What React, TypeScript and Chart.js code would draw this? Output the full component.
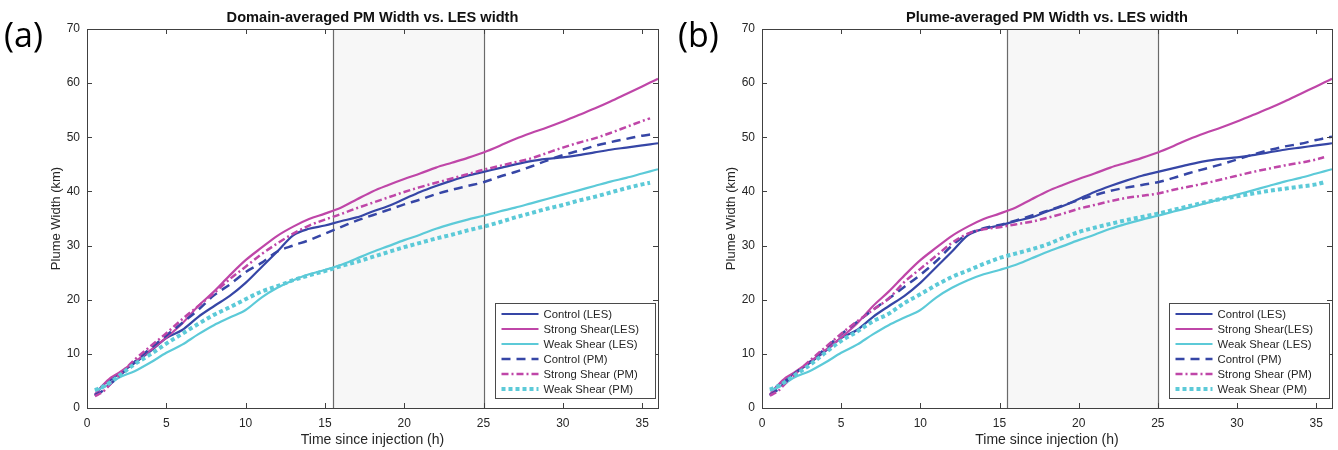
import React, { useEffect, useRef } from 'react';
import { Chart, registerables } from 'chart.js';

Chart.register(...registerables);

// ---------------- data ----------------
const TIME_H = [0.5, 1, 1.5, 2, 3, 4, 5, 6, 7, 8, 9, 10, 11, 12, 13, 14, 15, 16, 17, 18, 19, 20, 21, 22, 23, 24, 25, 26, 27, 28, 29, 30, 31, 32, 33, 34, 35, 35.5, 36];

const X_TICKS = [0, 5, 10, 15, 20, 25, 30, 35];
const Y_TICKS = [0, 10, 20, 30, 40, 50, 60, 70];
const SHADE_H = [15.5, 25];

// LES widths (same in both panels)
const CONTROL_LES = [2.3, 4.2, 5.2, 6.3, 8.3, 10.5, 12.9, 14.4, 16.8, 18.8, 20.7, 23.1, 26.0, 28.9, 31.9, 33.1, 33.7, 34.5, 35.2, 36.3, 37.3, 38.6, 39.9, 41.0, 42.0, 42.9, 43.6, 44.3, 45.0, 45.6, 46.0, 46.3, 46.7, 47.2, 47.7, 48.1, 48.5, 48.7, 48.9];
const STRONG_LES = [2.5, 4.2, 5.6, 6.5, 8.5, 10.7, 13.0, 15.6, 18.8, 21.5, 24.5, 27.3, 29.6, 31.8, 33.5, 34.9, 35.9, 37.0, 38.5, 40.0, 41.2, 42.3, 43.3, 44.4, 45.3, 46.2, 47.2, 48.4, 49.7, 50.8, 51.8, 52.9, 54.1, 55.3, 56.6, 58.0, 59.4, 60.1, 60.8];
const WEAK_LES = [3.2, 3.8, 4.6, 5.6, 6.8, 8.4, 10.2, 11.7, 13.6, 15.3, 16.7, 18.1, 20.4, 22.2, 23.6, 24.7, 25.5, 26.4, 27.6, 28.8, 29.9, 31.0, 32.0, 33.1, 34.0, 34.8, 35.5, 36.3, 37.0, 37.8, 38.6, 39.4, 40.2, 41.0, 41.8, 42.5, 43.3, 43.7, 44.1];

// (a) domain-averaged PM widths
const CONTROL_PM_DOMAIN = [2.4, 3.2, 4.5, 5.8, 8.5, 11.0, 13.4, 15.7, 18.1, 20.8, 22.8, 25.1, 26.8, 28.9, 30.0, 31.0, 32.2, 33.4, 34.6, 35.6, 36.6, 37.6, 38.5, 39.5, 40.3, 41.0, 41.7, 42.7, 43.6, 44.6, 45.7, 46.7, 47.5, 48.4, 49.1, 49.7, 50.3, 50.5, null];
const STRONG_PM_DOMAIN = [2.2, 3.0, 4.5, 6.0, 8.9, 11.4, 13.8, 16.4, 18.8, 21.2, 23.8, 26.1, 28.4, 30.4, 32.2, 33.7, 34.8, 35.8, 36.9, 37.9, 38.9, 39.9, 40.8, 41.6, 42.4, 43.2, 44.0, 44.7, 45.4, 46.1, 47.1, 48.1, 49.0, 49.8, 50.8, 51.9, 53.0, 53.5, null];
const WEAK_PM_DOMAIN = [3.3, 3.9, 4.8, 5.9, 8.1, 9.9, 11.9, 13.7, 15.5, 17.2, 18.6, 20.1, 21.5, 22.5, 23.6, 24.5, 25.3, 26.2, 27.0, 27.9, 28.8, 29.7, 30.5, 31.3, 32.0, 32.8, 33.5, 34.3, 35.2, 36.0, 36.8, 37.5, 38.3, 39.0, 39.8, 40.6, 41.3, 41.6, null];

// (b) plume-averaged PM widths
const CONTROL_PM_PLUME = [2.4, 3.4, 4.8, 6.2, 8.4, 11.0, 13.6, 15.9, 18.1, 20.2, 22.4, 24.6, 27.1, 30.0, 32.1, 33.2, 33.8, 34.6, 35.5, 36.4, 37.4, 38.4, 39.3, 40.1, 40.7, 41.2, 41.7, 42.5, 43.4, 44.2, 45.0, 45.9, 46.8, 47.6, 48.3, 48.8, 49.5, 49.8, 50.1];
const STRONG_PM_PLUME = [2.3, 3.1, 4.6, 6.0, 8.7, 11.2, 13.7, 16.0, 18.1, 20.2, 23.3, 25.7, 28.1, 30.5, 32.2, 33.0, 33.4, 33.9, 34.4, 35.1, 35.9, 36.8, 37.5, 38.2, 38.8, 39.2, 39.6, 40.3, 40.9, 41.5, 42.2, 42.9, 43.6, 44.2, 44.8, 45.3, 45.9, 46.3, null];
const WEAK_PM_PLUME = [3.4, 4.0, 4.9, 5.9, 7.9, 10.2, 12.4, 14.1, 16.0, 17.4, 19.4, 21.0, 22.7, 24.2, 25.4, 26.6, 27.7, 28.5, 29.3, 30.2, 31.4, 32.5, 33.3, 34.0, 34.7, 35.3, 35.9, 36.6, 37.3, 38.0, 38.6, 39.1, 39.6, 40.1, 40.5, 40.9, 41.3, 41.7, null];

const SERIES_NAMES = ['Control (LES)', 'Strong Shear(LES)', 'Weak Shear (LES)', 'Control (PM)', 'Strong Shear (PM)', 'Weak Shear (PM)'];

// ---------------- style ----------------
const FONT = '"Liberation Sans", Arial, Helvetica, sans-serif';
const TEXT = '#262626';
const AXIS = '#404040';
const BLUE = '#3646a6';
const MAGENTA = '#bf46a8';
const CYAN = '#5ccad8';

function pts(values: (number | null)[]) {
  return TIME_H.map((t, i) => ({ x: t, y: values[i] }));
}

function makeDatasets(control: (number | null)[], strong: (number | null)[], weak: (number | null)[]) {
  const base = { pointRadius: 0, pointHoverRadius: 0, cubicInterpolationMode: 'monotone' as const, fill: false };
  return [
    { ...base, label: SERIES_NAMES[0], data: pts(CONTROL_LES), borderColor: BLUE, borderWidth: 2.2, borderDash: [], order: 5 },
    { ...base, label: SERIES_NAMES[1], data: pts(STRONG_LES), borderColor: MAGENTA, borderWidth: 2.2, borderDash: [], order: 4 },
    { ...base, label: SERIES_NAMES[2], data: pts(WEAK_LES), borderColor: CYAN, borderWidth: 2.2, borderDash: [], order: 3 },
    { ...base, label: SERIES_NAMES[3], data: pts(control), borderColor: BLUE, borderWidth: 2.5, borderDash: [9, 6], order: 2 },
    { ...base, label: SERIES_NAMES[4], data: pts(strong), borderColor: MAGENTA, borderWidth: 2.5, borderDash: [7, 3, 2, 3], order: 1 },
    { ...base, label: SERIES_NAMES[5], data: pts(weak), borderColor: CYAN, borderWidth: 4, borderDash: [4, 3], order: 0 },
  ];
}

const decorPlugin = {
  id: 'decor',
  beforeDatasetsDraw(chart: any) {
    const { ctx, chartArea, scales } = chart;
    const { top, bottom } = chartArea;
    const x0 = scales.x.getPixelForValue(SHADE_H[0]);
    const x1 = scales.x.getPixelForValue(SHADE_H[1]);
    ctx.save();
    ctx.fillStyle = '#f7f7f7';
    ctx.fillRect(x0, top, x1 - x0, bottom - top);
    ctx.strokeStyle = '#6a6a6a';
    ctx.lineWidth = 1.2;
    [x0, x1].forEach((px) => {
      ctx.beginPath();
      ctx.moveTo(Math.round(px) + 0.5, top);
      ctx.lineTo(Math.round(px) + 0.5, bottom);
      ctx.stroke();
    });
    ctx.restore();
  },
  afterDraw(chart: any, _args: any, opts: any) {
    const { ctx, chartArea, scales } = chart;
    const { top, bottom, left, right } = chartArea;
    ctx.save();
    // axes box
    ctx.strokeStyle = AXIS;
    ctx.lineWidth = 1;
    ctx.setLineDash([]);
    ctx.strokeRect(Math.round(left) + 0.5, Math.round(top) + 0.5, Math.round(right - left), Math.round(bottom - top));
    // inner ticks on all four sides
    const tl = 5;
    ctx.beginPath();
    X_TICKS.forEach((v) => {
      const px = Math.round(scales.x.getPixelForValue(v)) + 0.5;
      ctx.moveTo(px, bottom); ctx.lineTo(px, bottom - tl);
      ctx.moveTo(px, top); ctx.lineTo(px, top + tl);
    });
    Y_TICKS.forEach((v) => {
      const py = Math.round(scales.y.getPixelForValue(v)) + 0.5;
      ctx.moveTo(left, py); ctx.lineTo(left + tl, py);
      ctx.moveTo(right, py); ctx.lineTo(right - tl, py);
    });
    ctx.stroke();

    // legend
    const bw = 160, bh = 95;
    const bx = Math.round(right - 3 - bw) + 0.5;
    const by = Math.round(bottom - 10 - bh) + 0.5;
    ctx.fillStyle = '#ffffff';
    ctx.fillRect(bx, by, bw, bh);
    ctx.strokeStyle = '#4a4a4a';
    ctx.lineWidth = 1;
    ctx.strokeRect(bx, by, bw, bh);
    ctx.font = `11.3px ${FONT}`;
    ctx.textBaseline = 'middle';
    ctx.textAlign = 'left';
    chart.data.datasets.forEach((ds: any, i: number) => {
      const y = by + 10.5 + i * 15;
      ctx.save();
      ctx.strokeStyle = ds.borderColor;
      ctx.lineWidth = ds.borderWidth;
      ctx.setLineDash(ds.borderDash || []);
      ctx.beginPath();
      ctx.moveTo(bx + 6, y);
      ctx.lineTo(bx + 43, y);
      ctx.stroke();
      ctx.restore();
      ctx.fillStyle = TEXT;
      ctx.fillText(ds.label, bx + 48, y + 0.5);
    });

    // title
    ctx.fillStyle = '#111';
    ctx.font = `bold 14.6px ${FONT}`;
    ctx.textAlign = 'center';
    ctx.textBaseline = 'middle';
    ctx.fillText(opts.title, (left + right) / 2, top - 11);

    // panel label
    ctx.font = `34px "Open Sans", ${FONT}`;
    ctx.textAlign = 'left';
    ctx.fillStyle = '#000';
    ctx.fillText(opts.label, opts.labelX, 37);
    ctx.restore();
  },
};

type PanelProps = {
  left: number;
  title: string;
  label: string;
  labelX: number;
  axisLeft: number;
  padRight: number;
  control: (number | null)[];
  strong: (number | null)[];
  weak: (number | null)[];
};

function Panel(p: PanelProps) {
  const ref = useRef<HTMLCanvasElement | null>(null);
  useEffect(() => {
    if (!ref.current) return;
    const yTitleFont = 13;
    const chart = new Chart(ref.current, {
      type: 'line',
      data: { datasets: makeDatasets(p.control, p.strong, p.weak) as any },
      options: {
        animation: false,
        responsive: false,
        maintainAspectRatio: false,
        events: [],
        layout: { padding: { left: 0, right: p.padRight, top: 29, bottom: 0 } },
        plugins: {
          legend: { display: false },
          tooltip: { enabled: false },
          title: { display: false },
          decor: { title: p.title, label: p.label, labelX: p.labelX },
        } as any,
        scales: {
          x: {
            type: 'linear',
            min: 0,
            max: 36,
            grid: { display: false, drawTicks: false },
            border: { display: false },
            afterFit: (s: any) => { s.height = 42; },
            afterBuildTicks: (s: any) => { s.ticks = X_TICKS.map((v) => ({ value: v })); },
            ticks: { padding: 8, color: TEXT, font: { family: FONT, size: 12 }, maxRotation: 0, autoSkip: false },
            title: {
              display: true,
              text: 'Time since injection (h)',
              color: TEXT,
              font: { family: FONT, size: 14 },
              padding: { top: 0, bottom: 1.6 },
            },
          },
          y: {
            type: 'linear',
            min: 0,
            max: 70,
            grid: { display: false, drawTicks: false },
            border: { display: false },
            afterFit: (s: any) => { s.width = p.axisLeft; },
            afterBuildTicks: (s: any) => { s.ticks = Y_TICKS.map((v) => ({ value: v })); },
            ticks: { padding: 7, color: TEXT, font: { family: FONT, size: 12 }, autoSkip: false },
            title: {
              display: true,
              text: 'Plume Width (km)',
              color: TEXT,
              font: { family: FONT, size: yTitleFont },
              padding: { top: p.axisLeft - 31 - yTitleFont * 0.6, bottom: 0 },
            },
          },
        },
      },
      plugins: [decorPlugin as any],
    });
    return () => chart.destroy();
  }, []);
  return (
    <canvas
      ref={ref}
      width={669}
      height={450}
      style={{ position: 'absolute', left: p.left, top: 0, width: 669, height: 450, display: 'block' }}
    />
  );
}

export default function App() {
  useEffect(() => {
    document.body.style.margin = '0';
  }, []);
  return (
    <div style={{ position: 'fixed', left: 0, top: 0, width: 1338, height: 450, background: '#ffffff', overflow: 'hidden' }}>
      <Panel
        left={0}
        title="Domain-averaged PM Width vs. LES width"
        label="(a)"
        labelX={4}
        axisLeft={87}
        padRight={11}
        control={CONTROL_PM_DOMAIN}
        strong={STRONG_PM_DOMAIN}
        weak={WEAK_PM_DOMAIN}
      />
      <Panel
        left={669}
        title="Plume-averaged PM Width vs. LES width"
        label="(b)"
        labelX={9}
        axisLeft={93}
        padRight={6}
        control={CONTROL_PM_PLUME}
        strong={STRONG_PM_PLUME}
        weak={WEAK_PM_PLUME}
      />
    </div>
  );
}
